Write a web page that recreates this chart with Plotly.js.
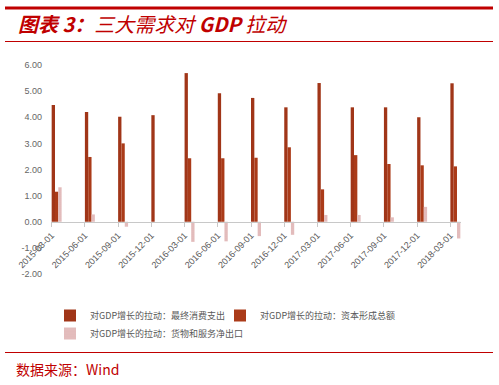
<!DOCTYPE html>
<html><head><meta charset="utf-8">
<script src="https://cdn.plot.ly/plotly-3.0.1.min.js"></script>
<style>html,body{margin:0;padding:0;background:#fff;}#chart{width:499px;height:385px;}</style>
</head><body><div id="chart"></div>
<script>
const dates = ["2015-03-01","2015-06-01","2015-09-01","2015-12-01","2016-03-01","2016-06-01","2016-09-01","2016-12-01","2017-03-01","2017-06-01","2017-09-01","2017-12-01","2018-03-01"];
const consumption = [4.47, 4.20, 4.02, 4.08, 5.69, 4.92, 4.74, 4.38, 5.31, 4.38, 4.38, 4.00, 5.30];
const capital     = [1.15, 2.48, 3.00, null, 2.43, 2.43, 2.45, 2.85, 1.24, 2.55, 2.21, 2.16, 2.12];
const netExports  = [1.32, 0.28, -0.19, null, -0.77, -0.75, -0.55, -0.50, 0.26, 0.26, 0.17, 0.57, -0.64];
const seriesNames = ["对GDP增长的拉动：最终消费支出","对GDP增长的拉动：资本形成总额","对GDP增长的拉动：货物和服务净出口"];
const yTicks = [-2, -1, 0, 1, 2, 3, 4, 5, 6];

const W = 499, H = 385;
const L = 51, R = 461, T = 65, B = 274;
const px = x => (x - L) / (R - L);
const py = y => (B - y) / (B - T);
const idx = dates.map((d, i) => i);
const red = "#c00000";

function bar(vals, name, off, bg, fg, leg) {
  return {type: "bar", x: idx, y: vals, name: name, width: 0.1, offset: off, legend: leg,
    marker: {color: bg, line: {width: 0}, pattern: {shape: "-", fgcolor: fg, bgcolor: bg, size: 2, solidity: 0.4}},
    hoverinfo: "skip"};
}
const data = [
  bar(consumption, seriesNames[0], 0.0, "#b8401c", "#7c2410", "legend"),
  bar(capital, seriesNames[1], 0.1, "#c0461e", "#8a2a12", "legend2"),
  bar(netExports, seriesNames[2], 0.2, "#dcaeae", "#ecd0d0", "legend3")
];
function leg(xp, yp) {
  return {orientation: "h", x: px(xp), y: py(yp), xanchor: "left", yanchor: "top",
    font: {family: "Noto Sans CJK SC, sans-serif", size: 9, color: "#595959"},
    itemwidth: 30, bgcolor: "rgba(0,0,0,0)"};
}
const layout = {
  width: W, height: H,
  margin: {l: L, r: W - R, t: T, b: H - B, pad: 0},
  paper_bgcolor: "#fff", plot_bgcolor: "#fff",
  barmode: "overlay", showlegend: true,
  font: {family: "Liberation Sans, Arial, sans-serif", color: "#595959"},
  xaxis: {range: [-0.02, 12.32], tickvals: idx, ticktext: dates, tickangle: -45,
    anchor: "free", position: 0.25, showline: true, linecolor: "#c8c8c8", linewidth: 1,
    ticks: "outside", ticklen: 4, tickcolor: "#c8c8c8", showgrid: false, zeroline: false,
    tickfont: {size: 9, color: "#595959"}, fixedrange: true},
  yaxis: {range: [-2, 6], tickvals: yTicks, ticktext: yTicks.map(v => v.toFixed(2)),
    showgrid: false, zeroline: false, showline: false, ticks: "",
    tickfont: {size: 9, color: "#666"}, ticklabelstandoff: 8, fixedrange: true},
  legend: leg(50, 301),
  legend2: leg(220, 301),
  legend3: leg(50, 319),
  shapes: [
    {type: "rect", xref: "paper", yref: "paper", x0: px(5), x1: px(493), y0: py(9.5), y1: py(6.5), fillcolor: red, line: {width: 0}},
    {type: "line", xref: "paper", yref: "paper", x0: px(5), x1: px(493), y0: py(41.5), y1: py(41.5), line: {color: red, width: 1}},
    {type: "line", xref: "paper", yref: "paper", x0: px(5), x1: px(493), y0: py(352.5), y1: py(352.5), line: {color: red, width: 1}}
  ],
  annotations: [
    {xref: "paper", yref: "paper", x: px(16), y: py(24), xanchor: "left", yanchor: "middle", showarrow: false,
      text: "<i><b>图表 3：</b>三大需求对 <b>GDP</b> 拉动</i>",
      font: {family: "Noto Sans CJK SC, sans-serif", size: 20, color: red}},
    {xref: "paper", yref: "paper", x: px(14), y: py(369), xanchor: "left", yanchor: "middle", showarrow: false,
      text: "数据来源：Wind",
      font: {family: "Noto Sans CJK SC, sans-serif", size: 14, color: red}}
  ]
};
Plotly.newPlot("chart", data, layout, {staticPlot: true, displayModeBar: false});
</script></body></html>
